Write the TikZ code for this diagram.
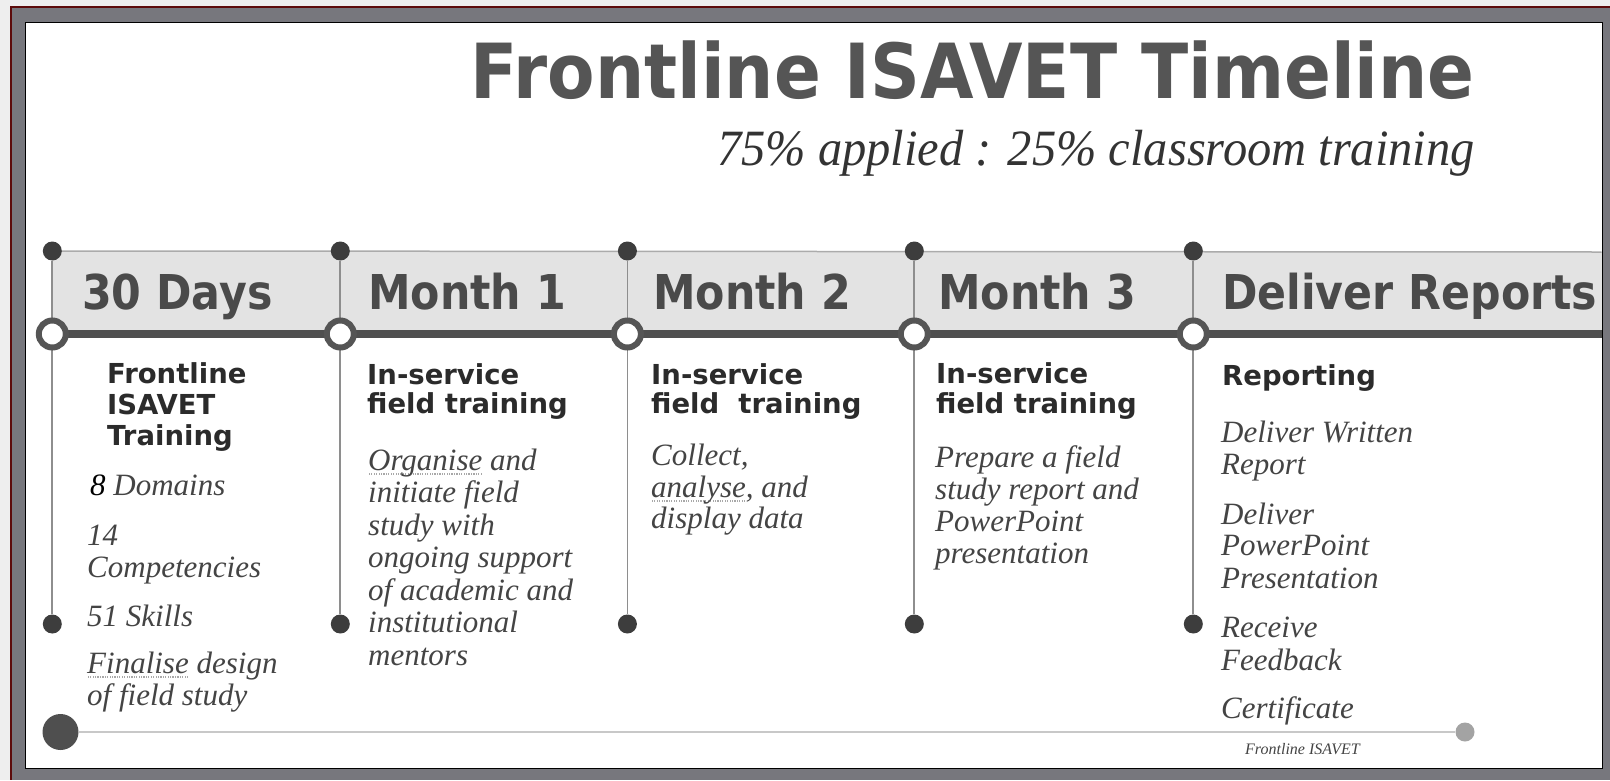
\documentclass[tikz,border=0pt]{standalone}
\usepackage{fontspec}
\setmainfont{Liberation Serif}
\newfontfamily\hdrfont{DejaVu Sans}[FakeStretch=0.89]
\newfontfamily\ttlfont{DejaVu Sans}[FakeStretch=0.91]
\newfontfamily\subfont{DejaVu Sans}
\usetikzlibrary{backgrounds}
\definecolor{outerbg}{HTML}{EEEEEE}
\definecolor{darkred}{HTML}{5C0A0A}
\definecolor{framegray}{HTML}{77777D}
\definecolor{bandcol}{HTML}{E3E3E3}
\definecolor{bandline}{HTML}{ABABAB}
\definecolor{vlinecol}{HTML}{8E8E8E}
\definecolor{dotcol}{HTML}{3D3D3D}
\definecolor{thickcol}{HTML}{4F4F4F}
\definecolor{ringcol}{HTML}{555555}
\definecolor{hdrcol}{HTML}{4A4A4A}
\definecolor{titlecol}{HTML}{555555}
\definecolor{subtcol}{HTML}{333333}
\definecolor{subcol}{HTML}{2B2B2B}
\definecolor{itcol}{HTML}{444444}
\definecolor{sqcol}{HTML}{A8A8A8}
\definecolor{baselinecol}{HTML}{C8C8C8}
\definecolor{enddot}{HTML}{A3A3A3}
\newcommand\squig[1]{\setbox0\hbox{#1}\leavevmode\rlap{\textcolor{sqcol}{\raisebox{-4.5pt}{\hbox to \wd0{\xleaders\hbox to 2.4pt{\hss\rule{1.2pt}{1.2pt}\hss}\hfill}}}}\box0\relax}
\begin{document}
\begin{tikzpicture}[x=1pt,y=-1pt,
  hdr/.style={anchor=base west, inner sep=0pt, text=hdrcol, font=\hdrfont\bfseries\fontsize{48}{48}\selectfont},
  subhd/.style={anchor=base west, inner sep=0pt, text=subcol, font=\subfont\bfseries\fontsize{27.5}{27.5}\selectfont},
  itx/.style={anchor=base west, inner sep=0pt, text=itcol, font=\itshape\fontsize{31}{31}\selectfont},
  tdot/.style={circle, fill=dotcol, inner sep=0pt, minimum size=19pt},
  ring/.style={circle, draw=ringcol, line width=6pt, fill=white, inner sep=0pt, minimum size=27pt},
  vline/.style={draw=vlinecol, line width=1.8pt},
]
\useasboundingbox (0,0) rectangle (1610,780);
\begin{pgfonlayer}{background}
  \fill[outerbg] (0,0) rectangle (1610,780);
  \fill[darkred] (10,6) rectangle (1610,780);
  \fill[framegray] (12,8) rectangle (1610,780);
  \draw[black, line width=1.5pt, fill=white] (25.5,22.5) rectangle (1602.5,768.5);
  \fill[bandcol] (52.3,252) rectangle (1601.7,334);
\end{pgfonlayer}
\coordinate (bandR) at (1601.7,252);
\coordinate (lineR) at (1601.7,334);
% dots and rings
\foreach \i/\x in {1/52.3,2/340.3,3/627.4,4/914.3,5/1193.3}{
  \node[tdot] (td\i) at (\x,251) {};
  \node[ring] (r\i) at (\x,334) {};
  \node[tdot] (bd\i) at (\x,624) {};
}
\node[circle, fill=thickcol, inner sep=0pt, minimum size=36pt] (big) at (60.5,732) {};
\node[circle, fill=enddot, inner sep=0pt, minimum size=19pt] (end) at (1465,732) {};
\begin{pgfonlayer}{background}
  \draw[bandline, line width=1.5pt] (td1.center) -- (bandR);
  \foreach \i in {1,...,5}{ \draw[vline] (td\i) -- (bd\i); }
  \draw[thickcol, line width=8.5pt] (r1.center) -- (lineR);
  \draw[baselinecol, line width=2.5pt] (big) -- (end);
\end{pgfonlayer}
% title
\node[anchor=base east, inner sep=0pt, text=titlecol, font=\ttlfont\bfseries\fontsize{76}{76}\selectfont] (title) at (1475,98) {Frontline ISAVET Timeline};
\node[anchor=base east, inner sep=0pt, text=subtcol, font=\itshape\fontsize{48}{48}\selectfont] (subtitle) at (1475,165) {\scalebox{1.01}[1.06]{75\% applied : 25\% classroom training}};
% headers
\begin{scope}
\clip (26,23) rectangle (1602,768);
\node[hdr] (h1) at (82,309) {30 Days};
\node[hdr] (h2) at (368,309) {Month 1};
\node[hdr] (h3) at (653,309) {Month 2};
\node[hdr] (h4) at (938,309) {Month 3};
\node[hdr] (h5) at (1222,309) {Deliver Reports};
\end{scope}
% column 1
\node[subhd] (s1a) at (107,383) {Frontline};
\node[subhd] (s1b) at (107,414) {ISAVET};
\node[subhd] (s1c) at (107,445) {Training};
\node[itx] (c1a) at (90,495) {\textcolor{black}{8} Domains};
\node[itx] (c1b) at (87,545) {14};
\node[itx] (c1c) at (87,577) {Competencies};
\node[itx] (c1d) at (87,626) {51 Skills};
\node[itx] (c1e) at (87,673) {\squig{Finalise} design};
\node[itx] (c1f) at (87,705) {of field study};
% column 2
\node[subhd] (s2a) at (367,384) {In-service};
\node[subhd] (s2b) at (367,413) {field training};
\node[itx] (c2a) at (368,470) {\squig{Organise} and};
\node[itx] (c2b) at (368,502.5) {initiate field};
\node[itx] (c2c) at (368,535) {study with};
\node[itx] (c2d) at (368,567.5) {ongoing support};
\node[itx] (c2e) at (368,600) {of academic and};
\node[itx] (c2f) at (368,632.5) {institutional};
\node[itx] (c2g) at (368,665) {mentors};
% column 3
\node[subhd] (s3a) at (651,384) {In-service};
\node[subhd] (s3b) at (651,413) {field\ \ training};
\node[itx] (c3a) at (651,465) {Collect,};
\node[itx] (c3b) at (651,497) {\squig{analyse}, and};
\node[itx] (c3c) at (651,528) {display data};
% column 4
\node[subhd] (s4a) at (936,383) {In-service};
\node[subhd] (s4b) at (936,413) {field training};
\node[itx] (c4a) at (935,467) {Prepare a field};
\node[itx] (c4b) at (935,499) {study report and};
\node[itx] (c4c) at (935,531) {PowerPoint};
\node[itx] (c4d) at (935,563) {presentation};
% column 5
\node[subhd] (s5a) at (1222,385) {Reporting};
\node[itx] (c5a) at (1221,442) {Deliver Written};
\node[itx] (c5b) at (1221,474) {Report};
\node[itx] (c5c) at (1221,524) {Deliver};
\node[itx] (c5d) at (1221,555) {PowerPoint};
\node[itx] (c5e) at (1221,588) {Presentation};
\node[itx] (c5f) at (1221,637) {Receive};
\node[itx] (c5g) at (1221,670) {Feedback};
\node[itx] (c5h) at (1221,718) {Certificate};
% footer
\node[anchor=base west, inner sep=0pt, text=itcol, font=\itshape\fontsize{16}{16}\selectfont] (foot) at (1245,754) {Frontline ISAVET};
\end{tikzpicture}
\end{document}
